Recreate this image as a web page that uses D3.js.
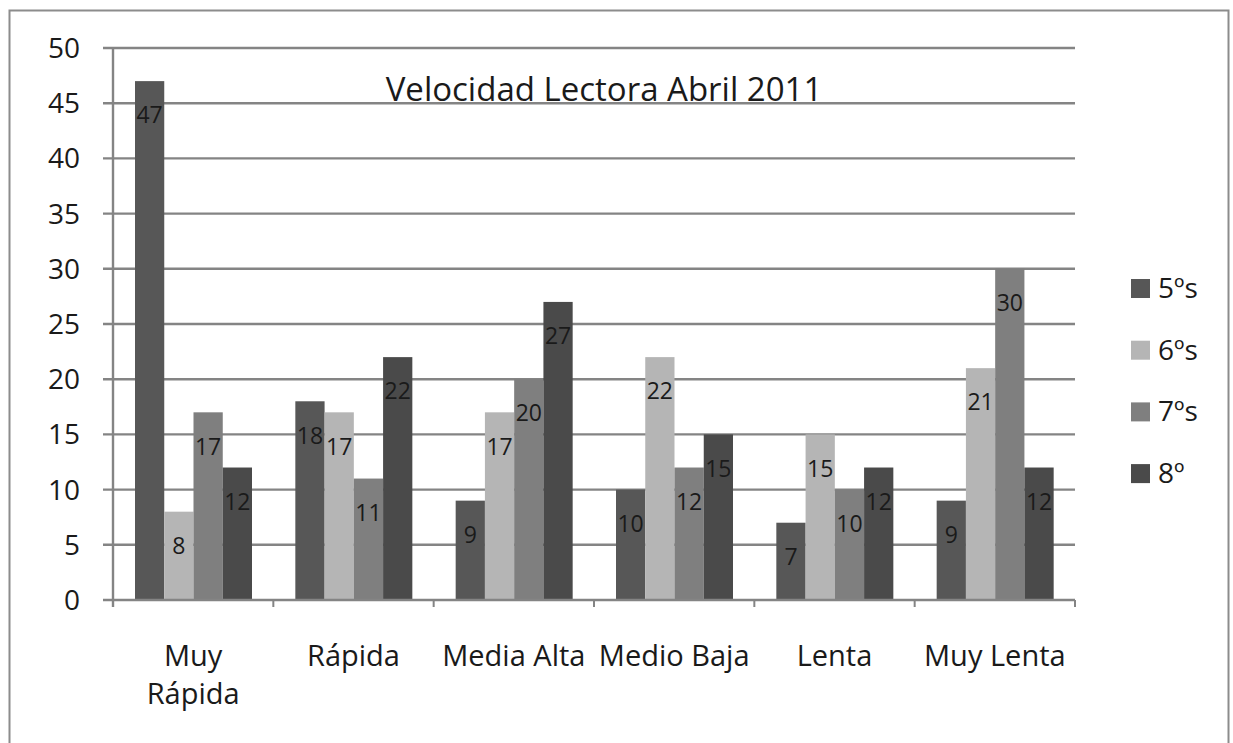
<!DOCTYPE html>
<html>
<head>
<meta charset="utf-8">
<script src="https://cdn.jsdelivr.net/npm/d3@7"></script>
<style>
  body { margin: 0; background: #fff; }
  svg { display: block; font-family: "Open Sans", sans-serif; }
</style>
</head>
<body>
<svg id="chart" width="1233" height="743"></svg>
<script>
var categories = ["Muy Rápida", "Rápida", "Media Alta", "Medio Baja", "Lenta", "Muy Lenta"];
var series = ["5ºs", "6ºs", "7ºs", "8º"];
var values5 = [47, 18, 9, 10, 7, 9];
var values6 = [8, 17, 17, 22, 15, 21];
var values7 = [17, 11, 20, 12, 10, 30];
var values8 = [12, 22, 27, 15, 12, 12];
var yTicks = [0, 5, 10, 15, 20, 25, 30, 35, 40, 45, 50];
var colors = ["#575757", "#b5b5b5", "#7f7f7f", "#4a4a4a"];

var allValues = [values5, values6, values7, values8];

var svg = d3.select("#chart");

// outer frame
svg.append("rect")
  .attr("x", 9.5).attr("y", 10.5)
  .attr("width", 1219).attr("height", 745)
  .attr("fill", "none")
  .attr("stroke", "#8c8c8c")
  .attr("stroke-width", 2);

var plotLeft = 113, plotRight = 1075, plotTop = 48, plotBottom = 600;

var y = d3.scaleLinear().domain([0, 50]).range([plotBottom, plotTop]);
var x0 = d3.scaleBand().domain(categories).range([plotLeft, plotRight]).padding(0);
var x1 = d3.scaleBand().domain(series).range([22, 139]).padding(0);
var color = d3.scaleOrdinal().domain(series).range(colors);

// gridlines
svg.append("g").selectAll("line")
  .data(yTicks.filter(function(d) { return d > 0; }))
  .enter().append("line")
  .attr("x1", plotLeft - 10).attr("x2", plotRight)
  .attr("y1", function(d) { return y(d); })
  .attr("y2", function(d) { return y(d); })
  .attr("stroke", "#848484")
  .attr("stroke-width", 2.4);

// y labels
svg.append("g").selectAll("text")
  .data(yTicks)
  .enter().append("text")
  .attr("x", 80)
  .attr("y", function(d) { return y(d); })
  .attr("dy", "0.36em")
  .attr("text-anchor", "end")
  .attr("font-size", 28)
  .attr("fill", "#1a1a1a")
  .text(function(d) { return d; });

// bars
var rows = [];
categories.forEach(function(c, i) {
  series.forEach(function(s, j) {
    rows.push({ cat: c, ser: s, val: allValues[j][i] });
  });
});

var bars = svg.append("g");
bars.selectAll("rect")
  .data(rows)
  .enter().append("rect")
  .attr("x", function(d) { return x0(d.cat) + x1(d.ser); })
  .attr("y", function(d) { return y(d.val); })
  .attr("width", x1.bandwidth())
  .attr("height", function(d) { return plotBottom - y(d.val); })
  .attr("fill", function(d) { return color(d.ser); });

bars.selectAll("text")
  .data(rows)
  .enter().append("text")
  .attr("x", function(d) { return x0(d.cat) + x1(d.ser) + x1.bandwidth() / 2; })
  .attr("y", function(d) { return y(d.val) + 34; })
  .attr("dy", "0.36em")
  .attr("text-anchor", "middle")
  .attr("font-size", 23)
  .attr("fill", "#1a1a1a")
  .text(function(d) { return d.val; });

// axes lines
svg.append("line")
  .attr("x1", plotLeft).attr("x2", plotLeft)
  .attr("y1", plotTop).attr("y2", plotBottom + 7)
  .attr("stroke", "#848484").attr("stroke-width", 2.4);
svg.append("line")
  .attr("x1", plotLeft - 10).attr("x2", plotRight)
  .attr("y1", plotBottom).attr("y2", plotBottom)
  .attr("stroke", "#848484").attr("stroke-width", 2.4);

// x ticks at group edges
var edges = categories.map(function(c) { return x0(c); }).concat([plotRight]);
svg.append("g").selectAll("line")
  .data(edges)
  .enter().append("line")
  .attr("x1", function(d) { return d; }).attr("x2", function(d) { return d; })
  .attr("y1", plotBottom).attr("y2", plotBottom + 7)
  .attr("stroke", "#848484").attr("stroke-width", 2);

// x labels (first one wraps to two lines)
var xl = svg.append("g").selectAll("text")
  .data(categories)
  .enter().append("text")
  .attr("x", function(d) { return x0(d) + x0.bandwidth() / 2; })
  .attr("y", 666)
  .attr("text-anchor", "middle")
  .attr("font-size", 29)
  .attr("fill", "#1a1a1a");
xl.each(function(d) {
  var t = d3.select(this);
  if (d === "Muy Rápida") {
    t.append("tspan").attr("x", x0(d) + x0.bandwidth() / 2).text("Muy");
    t.append("tspan").attr("x", x0(d) + x0.bandwidth() / 2).attr("dy", 38).text("Rápida");
  } else {
    t.text(d);
  }
});

// title
svg.append("text")
  .attr("x", 604).attr("y", 101)
  .attr("text-anchor", "middle")
  .attr("font-size", 33)
  .attr("fill", "#1a1a1a")
  .text("Velocidad Lectora Abril 2011");

// legend
var legend = svg.append("g").selectAll("g")
  .data(series)
  .enter().append("g")
  .attr("transform", function(d, i) { return "translate(1131," + (288 + i * 61.7) + ")"; });
legend.append("rect")
  .attr("x", 0).attr("y", -9)
  .attr("width", 19).attr("height", 19)
  .attr("fill", function(d) { return color(d); });
legend.append("text")
  .attr("x", 27).attr("y", 0)
  .attr("dy", "0.36em")
  .attr("font-size", 28)
  .attr("fill", "#1a1a1a")
  .text(function(d) { return d; });
</script>
</body>
</html>
